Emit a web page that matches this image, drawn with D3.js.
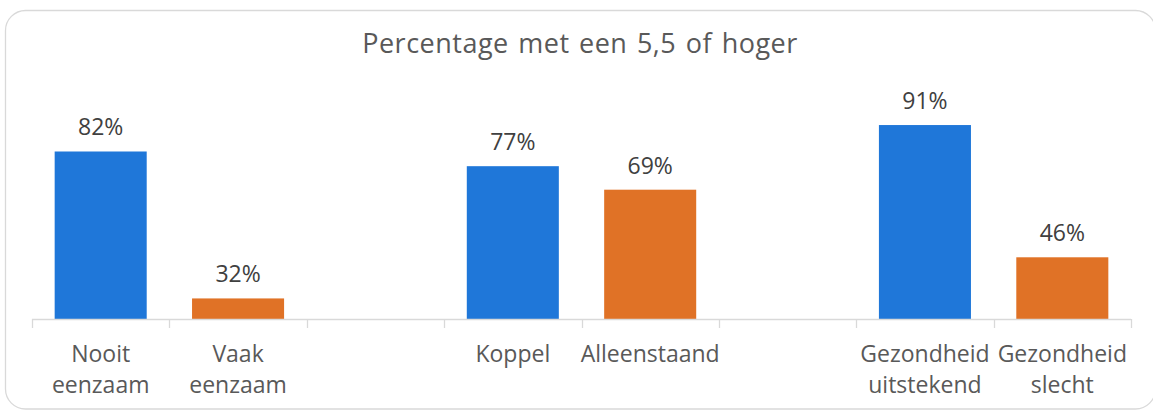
<!DOCTYPE html>
<html>
<head>
<meta charset="utf-8">
<script src="https://cdn.jsdelivr.net/npm/d3@7"></script>
<style>
  html, body { margin: 0; padding: 0; background: #ffffff; }
  svg { display: block; }
  text { font-family: "Open Sans", "Noto Sans", sans-serif; }
</style>
</head>
<body>
<script>
// ---- data ----
const title = "Percentage met een 5,5 of hoger";
const categories = ["Nooit eenzaam", "Vaak eenzaam", "", "Koppel", "Alleenstaand", "", "Gezondheid uitstekend", "Gezondheid slecht"];
const values = [0.82, 0.32, null, 0.77, 0.69, null, 0.91, 0.46];
const groups = ["positief", "negatief", null, "positief", "negatief", null, "positief", "negatief"];
const yDomain = [0.25, 1.0];

// ---- layout ----
const W = 1153, H = 410;
const plotLeft = 32, plotRight = 1131, plotBottom = 319, plotTop = 98.6;

const svg = d3.select("body").append("svg").attr("width", W).attr("height", H);

// chart frame
svg.append("rect")
  .attr("x", 5.5).attr("y", 10.5)
  .attr("width", 1150).attr("height", 398.5)
  .attr("rx", 20).attr("ry", 20)
  .attr("fill", "#ffffff").attr("stroke", "#d9d9d9").attr("stroke-width", 1.3);

const idx = categories.map((d, i) => i);
const xCat = d3.scaleBand().domain(idx).range([plotLeft, plotRight]).padding(0);
const xBar = d3.scaleBand().domain(idx).range([plotLeft, plotRight]).paddingInner(0.33).paddingOuter(0.165);
const y = d3.scaleLinear().domain(yDomain).range([plotBottom, plotTop]);
const color = d3.scaleOrdinal().domain(["positief", "negatief"]).range(["#1f77d9", "#e07226"]);

// title
svg.append("text")
  .attr("x", 580).attr("y", 53)
  .attr("text-anchor", "middle")
  .attr("font-size", 27)
  .attr("letter-spacing", 0.5)
  .attr("word-spacing", 2)
  .attr("fill", "#595959")
  .text(title);

// bars
const data = idx.filter(i => values[i] != null).map(i => ({ i, v: values[i], g: groups[i] }));
svg.append("g").selectAll("rect").data(data).join("rect")
  .attr("x", d => xBar(d.i))
  .attr("width", xBar.bandwidth())
  .attr("y", d => y(d.v))
  .attr("height", d => y(yDomain[0]) - y(d.v))
  .attr("fill", d => color(d.g));

// data labels
svg.append("g").selectAll("text").data(data).join("text")
  .attr("x", d => xBar(d.i) + xBar.bandwidth() / 2)
  .attr("y", d => y(d.v) - 16)
  .attr("text-anchor", "middle")
  .attr("font-size", 23)
  .attr("fill", "#404040")
  .text(d => d3.format(".0%")(d.v));

// axis
const boundaries = idx.map(i => xCat(i)).concat([plotRight]);
const axisG = svg.append("g");
axisG.append("line")
  .attr("x1", plotLeft).attr("x2", plotRight)
  .attr("y1", plotBottom + 0.5).attr("y2", plotBottom + 0.5)
  .attr("stroke", "#d9d9d9").attr("stroke-width", 1.3);
axisG.selectAll("line.tick").data(boundaries).join("line")
  .attr("class", "tick")
  .attr("x1", d => Math.round(d) + 0.5).attr("x2", d => Math.round(d) + 0.5)
  .attr("y1", plotBottom).attr("y2", plotBottom + 9)
  .attr("stroke", "#d9d9d9").attr("stroke-width", 1.3);

// category labels with wrapping
const labelG = svg.append("g");
idx.forEach(i => {
  const label = categories[i];
  if (!label) return;
  const t = labelG.append("text")
    .attr("x", xCat(i) + xCat.bandwidth() / 2)
    .attr("y", 362)
    .attr("text-anchor", "middle")
    .attr("font-size", 23)
    .attr("fill", "#595959");
  const words = label.split(" ");
  let lines = [], cur = [];
  const probe = t.append("tspan");
  words.forEach(w => {
    const test = cur.concat([w]).join(" ");
    probe.text(test);
    if (cur.length && probe.node().getComputedTextLength() > xCat.bandwidth() - 2) {
      lines.push(cur.join(" "));
      cur = [w];
    } else {
      cur.push(w);
    }
  });
  lines.push(cur.join(" "));
  probe.remove();
  lines.forEach((ln, k) => {
    t.append("tspan")
      .attr("x", xCat(i) + xCat.bandwidth() / 2)
      .attr("dy", k === 0 ? 0 : 31)
      .text(ln);
  });
});
</script>
</body>
</html>
